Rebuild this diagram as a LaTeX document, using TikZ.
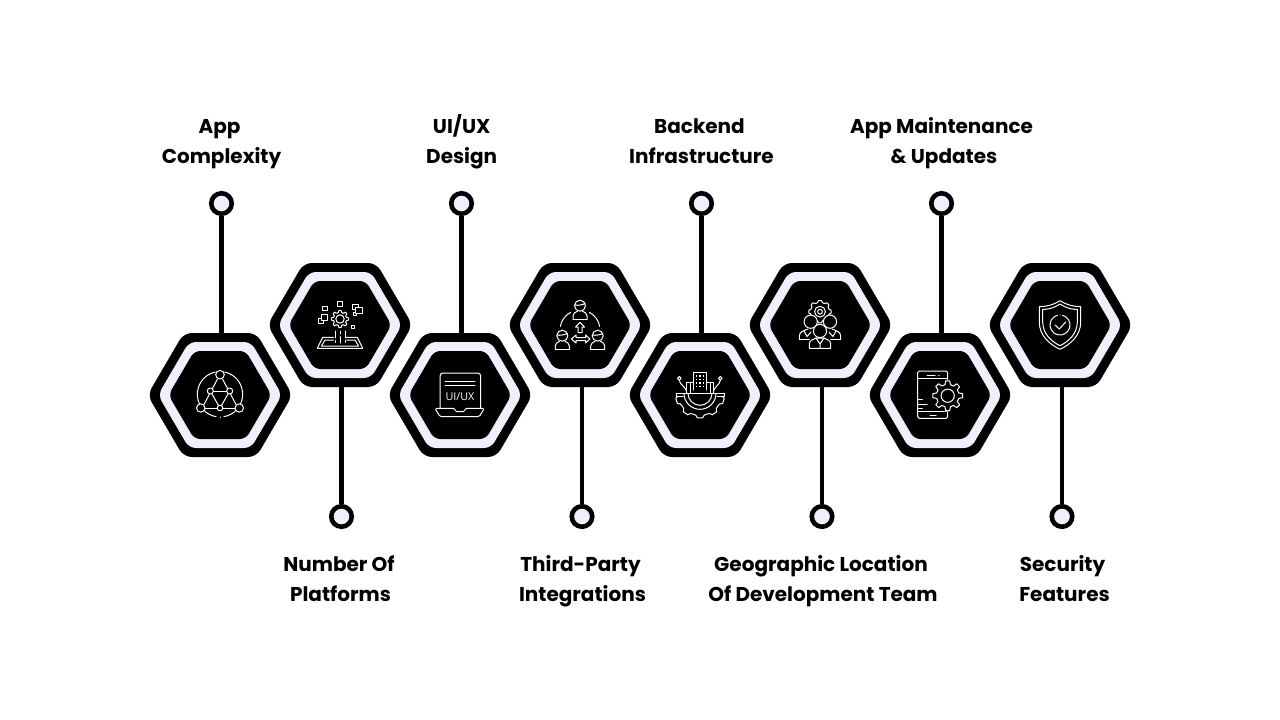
\documentclass[tikz,border=0pt]{standalone}
\usepackage{fontspec}
\setmainfont{Poppins}[BoldFont={Poppins Bold}]
\newfontfamily\iconfont{Open Sans}
\definecolor{lav}{HTML}{F3EEFC}
\tikzset{
  dot/.style={circle,draw=black,fill=lav,line width=4.6pt,minimum size=20.5pt,inner sep=0pt},
  hexanchor/.style={rectangle,minimum width=140pt,minimum height=124pt,inner sep=0pt},
  link/.style={draw=black,line width=4.2pt},
  lbl/.style={align=center,font=\fontsize{20}{30}\selectfont\bfseries,text=black,inner sep=0pt},
  ico/.style={draw=white,line width=1pt,line cap=round,line join=round},
}
\newcommand\hexshape[6]{%
  \path[fill=#6,rounded corners=#5pt] (#1,#2-#4) -- (#1+#3*0.5,#2-#4) -- (#1+#3,#2) -- (#1+#3*0.5,#2+#4) -- (#1-#3*0.5,#2+#4) -- (#1-#3,#2) -- (#1-#3*0.5,#2-#4) -- cycle;
}
\newcommand\gearteeth[6]{%
  \foreach \a in {#5}{
    \draw[ico] ([shift={(\a-0.30*#6:#4)}]#1,#2) -- ([shift={(\a-0.17*#6:#3)}]#1,#2) -- ([shift={(\a+0.17*#6:#3)}]#1,#2) -- ([shift={(\a+0.30*#6:#4)}]#1,#2) -- ([shift={(\a+0.5*#6:#4-0.4)}]#1,#2) -- ([shift={(\a+0.70*#6:#4)}]#1,#2);
  }
}
\newcommand\personicon[2]{%
  \draw[ico] (#1,#2) circle (5.5);
  \draw[ico] (#1-5.3,#2-0.8) .. controls (#1-2,#2+0.2) and (#1+2,#2-1) .. (#1+5.2,#2-2.2);
  \draw[ico] (#1-7,#2+13.6) -- (#1-7,#2+10) .. controls (#1-7,#2+7.5) and (#1-4.5,#2+6.5) .. (#1-2.5,#2+5.5);
  \draw[ico] (#1+7,#2+13.6) -- (#1+7,#2+10) .. controls (#1+7,#2+7.5) and (#1+4.5,#2+6.5) .. (#1+2.5,#2+5.5);
  \draw[ico] (#1-7,#2+13.6) -- (#1+7,#2+13.6);
}
\begin{document}
\begin{tikzpicture}[x=1pt,y=-1pt]
\useasboundingbox (0,0) rectangle (1280,720);
\foreach \i/\hx/\hy/\cx/\cy in {1/220/395/221.5/203.5,2/340/325/341.5/516.5,3/460/395/461.5/203.5,4/580/325/582/516.5,5/700/395/701.5/203.5,6/820/325/822/516.5,7/940/395/941.5/203.5,8/1060/325/1062/516.5}{
  \node[hexanchor] (h\i) at (\hx,\hy) {};
  \node[dot] (c\i) at (\cx,\cy) {};
  \draw[link] (c\i) -- (c\i |- h\i.center);
}
\foreach \hx/\hy in {220/395,340/325,460/395,580/325,700/395,820/325,940/395,1060/325}{
  \hexshape{\hx}{\hy}{72.5}{62}{8}{black}
  \hexshape{\hx}{\hy}{62}{53}{7}{lav}
  \hexshape{\hx}{\hy}{51.5}{44}{6}{black}
}
\node[lbl] (t1) at (221.5,142) {\strut App\kern4pt\\\strut Complexity};
\node[lbl] (t2) at (340.5,580) {\strut Number Of\kern3pt\\\strut Platforms};
\node[lbl] (t3) at (461.7,142) {\strut UI/UX\\\strut Design};
\node[lbl] (t4) at (582.5,580) {\strut Third-Party\kern4pt\\\strut Integrations};
\node[lbl] (t5) at (701.5,142) {\strut Backend\kern4pt\\\strut Infrastructure};
\node[lbl] (t6) at (823,580) {\strut Geographic Location\kern4pt\\\strut Of Development Team};
\node[lbl] (t7) at (941.5,142) {\strut App Maintenance\\\strut\kern5pt\& Updates};
\node[lbl] (t8) at (1064.5,580) {\strut Security\kern4pt\\\strut Features};
% icon 1: network
\draw[ico] (220,394.3) ++(-78:22.7) arc (-78:28:22.7);
\draw[ico] (220,394.3) ++(-102:22.7) arc (-102:-208:22.7);
\draw[ico] (220,417) -- (220,417.4);
\draw[ico] (220,394.3) ++(42:22.7) arc (42:80:22.7);
\draw[ico] (220,394.3) ++(100:22.7) arc (100:138:22.7);
\draw[ico] (217.5,379) -- (204,404.5) (222.5,379) -- (236,404.5);
\draw[ico] (204.7,408) -- (217,408) (223,408) -- (235.3,408);
\draw[ico] (213.3,391) -- (226.7,391);
\draw[ico] (211.8,393.7) -- (218.5,405.5) (228.2,393.7) -- (221.5,405.5);
\foreach \p/\r in {{220,374.7}/4.3,{200.7,408}/4.2,{239.3,408}/4.2,{220,408}/2.8,{210.3,391}/3,{229.7,391}/3}{
  \draw[ico,fill=black] (\p) circle (\r);
}
% icon 2: gear and squares
\draw[ico] (340,319) circle (4.2);
\gearteeth{340}{319}{8.6}{6.8}{0,45,90,135,180,225,270,315}{45}
\draw[ico] (337.5,301.2) rectangle (342.5,306.2);
\draw[ico] (322.5,306) rectangle (327,310.5);
\draw[ico] (318,318.5) rectangle (323,323.5);
\draw[ico,fill=black] (321,314) rectangle (327.5,320.5);
\draw[ico] (352.7,304) rectangle (358,309.5);
\draw[ico] (353,312) rectangle (356,315);
\draw[ico,fill=black] (355.5,307) rectangle (362,313.5);
\draw[ico] (351.3,325) rectangle (354.7,328.4);
\draw[ico] (333.5,337.3) -- (322.7,337.3) -- (317.3,348.3) -- (362.7,348.3) -- (357.3,337.3) -- (346.5,337.3);
\draw[ico] (333.5,340) -- (325,340) -- (321.5,346) -- (358.5,346) -- (355,340) -- (346.5,340);
\draw[ico] (335,331) -- (335,338) (335,340.5) -- (335,342.5);
\draw[ico] (340,331) -- (340,334) (340,336.5) -- (340,343);
\draw[ico] (345,331) -- (345,338) (345,340.5) -- (345,342.5);
% icon 3: UI/UX laptop
\draw[ico,rounded corners=3pt] (440,408.3) -- (440,373) -- (480.7,373) -- (480.7,408.3);
\draw[ico] (445,381.7) -- (475,381.7) (445,385.7) -- (475,385.7);
\node[font=\iconfont\fontsize{10.8}{12}\selectfont,text=white,inner sep=0pt] (uiux) at (460,396.6) {UI/UX};
\draw[ico,rounded corners=1.5pt] (435,408.3) -- (455,408.3) -- (455,411.5) -- (465,411.5) -- (465,408.3) -- (484.3,408.3) -- (479.3,416.7) -- (440,416.7) -- cycle;
% icon 4: people
\personicon{580}{305.7}
\personicon{562.3}{335.7}
\personicon{597.7}{335.7}
\draw[ico] (580,330) ++(-170:20) arc (-170:-118:20);
\draw[ico] (580,330) ++(-62:20) arc (-62:-10:20);
\draw[ico] (580,322.3) -- (584.5,327) -- (582,327) -- (582,332.5) -- (578,332.5) -- (578,327) -- (575.5,327) -- cycle;
\draw[ico] (571.5,339) -- (576,335) -- (576,337.5) -- (585.5,337.5) -- (585.5,335) -- (590,339) -- (585.5,343) -- (585.5,340.5) -- (576,340.5) -- (576,343) -- cycle;
% icon 5: infrastructure
\draw[ico] (693.3,390) -- (693.3,372.7) -- (706.7,372.7) -- (706.7,390);
\draw[ico] (693.3,382.3) -- (686.7,382.3) -- (686.7,393.3) (706.7,382.3) -- (713.3,382.3) -- (713.3,393.3);
\draw[ico] (690,382.3) -- (690,393) (710,382.3) -- (710,393);
\foreach \wx in {696.5,700,703.5}{\foreach \wy in {376,379.5,383,386.5}{
  \fill[white] (\wx-0.6,\wy-0.6) rectangle (\wx+0.6,\wy+0.6);
}}
\draw[ico] (676,393.3) -- (724,393.3);
\draw[ico] (676,393.3) -- (676,396.7) -- (683,396.7);
\draw[ico] (724,393.3) -- (724,396.7) -- (717,396.7);
\draw[ico] (700,393.3) ++(0:16) arc (0:180:16);
\draw[ico] (700,393.3) ++(0:12) arc (0:180:12);
\gearteeth{700}{393.3}{24.8}{22.3}{18,54,90,126}{36}
\draw[ico] ([shift={(151.2:22.3)}]700,393.3) -- ([shift={(155.9:24.8)}]700,393.3) -- ([shift={(168.1:24.8)}]700,393.3) -- ([shift={(172.8:22.3)}]700,393.3);
\draw[ico] (679.3,378.3) circle (1.8) (720.3,378.3) circle (1.8);
\draw[ico] (679.3,380.2) .. controls (679.3,385) and (686.5,386) .. (686.7,393.3);
\draw[ico] (720.3,380.2) .. controls (720.3,385) and (713.5,386) .. (713.3,393.3);
% icon 6: team and gear
\gearteeth{820}{311.7}{11.3}{9.6}{0,45,90,135,180,225,270,315}{45}
\draw[ico] (820,311.7) circle (5.4) (820,311.7) circle (2.4);
\draw[ico] (799.3,339.5) -- (799.3,336) .. controls (799.3,332) and (804,330.5) .. (808,329);
\draw[ico] (840.7,339.5) -- (840.7,336) .. controls (840.7,332) and (836,330.5) .. (832,329);
\draw[ico] (799.3,339.5) -- (809.3,339.5) (830.7,339.5) -- (840.7,339.5);
\draw[ico] (804,331) -- (807,336.5) -- (811,332) (836,331) -- (833,336.5) -- (829,332);
\draw[ico,fill=black] (810.7,321.7) circle (6.6) (830,321.7) circle (6.6);
\draw[ico,fill=black] (809.3,348.3) -- (809.3,344) .. controls (809.3,340.5) and (813,339.5) .. (816,338) -- (824,338) .. controls (827,339.5) and (830.7,340.5) .. (830.7,344) -- (830.7,348.3) -- cycle;
\draw[ico] (816,338) -- (820,344) -- (824,338) (820,344) -- (820,348.3);
\draw[ico,fill=black] (820,331) circle (6.6);
% icon 7: phone and gear
\draw[ico,rounded corners=1.5pt] (917.7,371) rectangle (947.7,418.3);
\draw[ico] (917.7,378.3) -- (947.7,378.3) (917.7,411.7) -- (947.7,411.7);
\draw[ico] (927,375) -- (935,375) (938.5,375) -- (939,375) (930,415) -- (936,415);
\draw[ico] (917.7,399) -- (922.3,399) (917.7,404) -- (927,404) (917.7,408.7) -- (922.3,408.7);
\fill[black] (947.7,395.7) circle (15.8);
\draw[ico] (947.7,395.7) circle (6.6);
\gearteeth{947.7}{395.7}{15}{11.5}{0,45,90,135,180,225,270,315}{45}
% icon 8: shield
\draw[ico] (1060,300.7) .. controls (1052,305.5) and (1046,306.5) .. (1039.3,306.7) -- (1039.3,322) .. controls (1039.3,336) and (1050,344.5) .. (1060,349.3) .. controls (1070,344.5) and (1080.7,336) .. (1080.7,322) -- (1080.7,306.7) .. controls (1074,306.5) and (1068,305.5) .. (1060,300.7) -- cycle;
\draw[ico] (1060,304) .. controls (1053,308.5) and (1048,309.3) .. (1042.7,309.5) -- (1042.7,322) .. controls (1042.7,334) and (1051.5,341.5) .. (1060,345.7) .. controls (1068.5,341.5) and (1077.3,334) .. (1077.3,322) -- (1077.3,309.5) .. controls (1072,309.3) and (1067,308.5) .. (1060,304) -- cycle;
\draw[ico] (1060,325) ++(-75:10) arc (-75:255:10);
\draw[ico] (1060,315) -- (1060,315.2);
\draw[ico] (1055,325) -- (1059.3,329) -- (1066,321.7);
\end{tikzpicture}
\end{document}
